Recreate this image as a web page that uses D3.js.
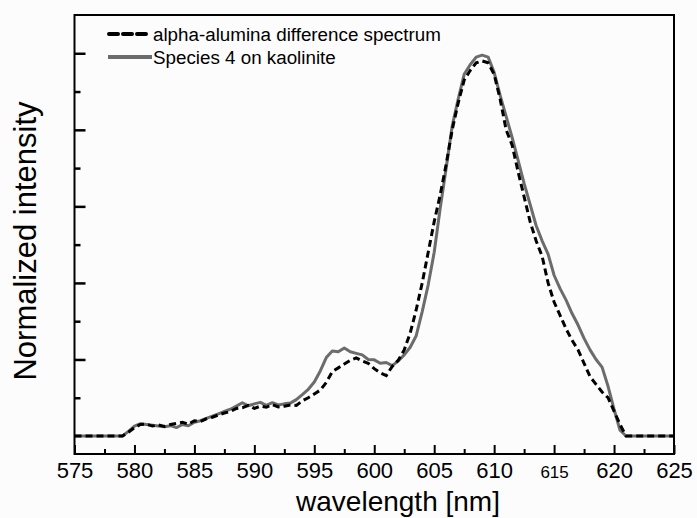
<!DOCTYPE html>
<html>
<head>
<meta charset="utf-8">
<script src="https://cdn.jsdelivr.net/npm/d3@7"></script>
<style>
  body { margin: 0; background: #fcfcfc; }
  text { font-family: "Liberation Sans", Arial, sans-serif; fill: #000; }
</style>
</head>
<body>
<div id="chart"></div>
<script>
// wavelength grid [nm]
const wavelength = d3.range(575, 625.01, 0.5);

// Species 4 on kaolinite (grey solid)
const species4 = [
  0, 0, 0, 0, 0, 0, 0, 0,            // 575 - 578.5
  0, 0.012, 0.026, 0.032, 0.030, 0.028, 0.026, 0.024, // 579 - 582.5
  0.027, 0.022, 0.030, 0.027, 0.036, 0.040, 0.046, 0.052, // 583 - 586.5
  0.058, 0.064, 0.070, 0.078, 0.087, 0.079, 0.084, 0.088, // 587 - 590.5
  0.080, 0.087, 0.081, 0.084, 0.086, 0.095, 0.108, 0.122, // 591 - 594.5
  0.141, 0.170, 0.205, 0.222, 0.220, 0.230, 0.220, 0.216, // 595 - 598.5
  0.212, 0.200, 0.199, 0.190, 0.192, 0.184, 0.196, 0.212, // 599 - 602.5
  0.232, 0.262, 0.325, 0.395, 0.48, 0.595, 0.70, 0.81,   // 603 - 606.5
  0.88, 0.945, 0.97, 0.99, 0.995, 0.99, 0.95, 0.89,       // 607 - 610.5
  0.835, 0.78, 0.72, 0.66, 0.605, 0.55, 0.51, 0.475,      // 611 - 614.5
  0.42, 0.385, 0.355, 0.32, 0.29, 0.255, 0.225, 0.20,     // 615 - 618.5
  0.18, 0.13, 0.07, 0.015, 0, 0, 0, 0,                    // 619 - 622.5
  0, 0, 0, 0, 0                                           // 623 - 625
];

// alpha-alumina difference spectrum (black dashed)
const alumina = [
  0, 0, 0, 0, 0, 0, 0, 0,
  0, 0.010, 0.022, 0.030, 0.031, 0.026, 0.029, 0.025,
  0.030, 0.033, 0.036, 0.031, 0.040, 0.038, 0.045, 0.049,
  0.055, 0.060, 0.064, 0.072, 0.074, 0.080, 0.072, 0.078,
  0.075, 0.082, 0.076, 0.078, 0.081, 0.080, 0.092, 0.100,
  0.110, 0.120, 0.140, 0.168, 0.178, 0.188, 0.198, 0.204,
  0.196, 0.190, 0.176, 0.165, 0.158, 0.182, 0.198, 0.225,
  0.269, 0.33, 0.40, 0.48, 0.56, 0.63, 0.71, 0.80,
  0.87, 0.93, 0.955, 0.975, 0.98, 0.975, 0.945, 0.88,
  0.80, 0.76, 0.69, 0.625, 0.56, 0.51, 0.47, 0.40,
  0.35, 0.315, 0.28, 0.25, 0.225, 0.19, 0.155, 0.135,
  0.115, 0.10, 0.065, 0.03, 0, 0, 0, 0,
  0, 0, 0, 0, 0
];

const xMajor = d3.range(575, 626, 5);
const xMinor = d3.range(577.5, 625, 5);
const yMajor = [0.2, 0.4, 0.6, 0.8, 1.0];
const yMinor = [0.1, 0.3, 0.5, 0.7, 0.9];

const legendLabels = ['alpha-alumina difference spectrum', 'Species 4 on kaolinite'];

const W = 697, H = 518;
const mLeft = 74.5, mRight = 674, mTop = 15, mBottom = 454;

const svg = d3.select('#chart').append('svg')
  .attr('width', W).attr('height', H);

const x = d3.scaleLinear().domain([575, 625]).range([mLeft, mRight]);
const y = d3.scaleLinear().domain([-0.047, 1.1]).range([mBottom, mTop]);

// minor ticks
svg.append('g')
  .attr('transform', `translate(0,${mBottom})`)
  .call(d3.axisBottom(x).tickValues(xMinor).tickSizeInner(-5).tickSizeOuter(0).tickFormat(''))
  .call(g => g.select('.domain').remove())
  .call(g => g.selectAll('line').attr('stroke-width', 2));

// major ticks and labels
const xAxis = svg.append('g')
  .attr('transform', `translate(0,${mBottom})`)
  .call(d3.axisBottom(x).tickValues(xMajor).tickSizeInner(-9).tickSizeOuter(0).tickPadding(8).tickFormat(d3.format('d')))
  .call(g => g.select('.domain').remove())
  .call(g => g.selectAll('line').attr('stroke-width', 2));
xAxis.selectAll('text')
  .attr('y', 24).attr('dy', null)
  .style('font-size', d => d === 615 ? '17px' : '22px')
  .style('font-family', '"Liberation Sans", Arial, sans-serif');

svg.append('g')
  .attr('transform', `translate(${mLeft},0)`)
  .call(d3.axisLeft(y).tickValues(yMinor).tickSizeInner(-6).tickSizeOuter(0).tickFormat(''))
  .call(g => g.select('.domain').remove())
  .call(g => g.selectAll('line').attr('stroke-width', 2.5));

svg.append('g')
  .attr('transform', `translate(${mLeft},0)`)
  .call(d3.axisLeft(y).tickValues(yMajor).tickSizeInner(-11).tickSizeOuter(0).tickFormat(''))
  .call(g => g.select('.domain').remove())
  .call(g => g.selectAll('line').attr('stroke-width', 2.5));

// data lines
const line = vals => d3.line()
  .x((d, i) => x(wavelength[i]))
  .y(d => y(d))(vals);

svg.append('path')
  .attr('d', line(species4))
  .attr('fill', 'none')
  .attr('stroke', '#6c6c6c')
  .attr('stroke-width', 3)
  .attr('stroke-linejoin', 'round');

svg.append('path')
  .attr('d', line(alumina))
  .attr('fill', 'none')
  .attr('stroke', '#000')
  .attr('stroke-width', 3)
  .attr('stroke-dasharray', '7,4');

// frame
svg.append('rect')
  .attr('x', mLeft).attr('y', mTop)
  .attr('width', mRight - mLeft).attr('height', mBottom - mTop)
  .attr('fill', 'none').attr('stroke', '#000').attr('stroke-width', 2);

// legend
const legend = svg.append('g');
legend.append('line')
  .attr('x1', 109).attr('x2', 150).attr('y1', 34).attr('y2', 34)
  .attr('stroke', '#000').attr('stroke-width', 4)
  .attr('stroke-dasharray', '9,5').attr('stroke-linecap', 'round');
legend.append('line')
  .attr('x1', 108).attr('x2', 152).attr('y1', 57).attr('y2', 57)
  .attr('stroke', '#6c6c6c').attr('stroke-width', 4);
legend.selectAll('text.lg')
  .data(legendLabels)
  .enter().append('text')
  .attr('x', 153)
  .attr('y', (d, i) => 40.5 + i * 23)
  .style('font-size', '18.8px')
  .text(d => d);

// axis titles
svg.append('text')
  .attr('x', 398).attr('y', 511)
  .attr('text-anchor', 'middle')
  .style('font-size', '28px')
  .text('wavelength [nm]');

svg.append('text')
  .attr('transform', 'translate(36,241) rotate(-90)')
  .attr('text-anchor', 'middle')
  .style('font-size', '31px')
  .text('Normalized intensity');
</script>
</body>
</html>
